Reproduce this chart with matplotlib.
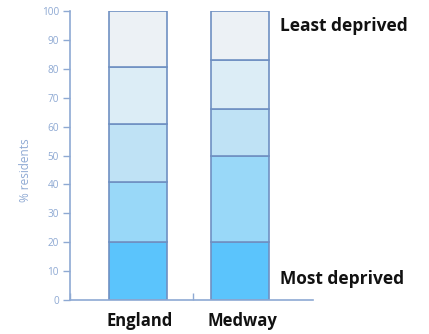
import matplotlib
matplotlib.use("Agg")
import matplotlib.pyplot as plt
import numpy as np

categories = ["England", "Medway"]
# quintile shares, most deprived (bottom) to least deprived (top)
england = [20, 21, 20, 19.5, 19.5]
medway = [20, 30, 16, 17, 17]
y_ticks = [0, 10, 20, 30, 40, 50, 60, 70, 80, 90, 100]

colors = ["#5BC4FC", "#99D8F8", "#BFE2F5", "#DCEDF6", "#ECF1F5"]
edge = "#6F90C2"
axcol = "#8EA9D3"
FONT = "Open Sans"

fig = plt.figure(figsize=(4.29, 3.34), dpi=100)
ax = fig.add_axes([70/429, (334-300)/334, (313-70)/429, (300-11)/334])

data = np.array([england, medway])
xpos = np.arange(len(categories))
bottom = np.zeros(len(categories))
for i in range(data.shape[1]):
    ax.bar(xpos, data[:, i], bottom=bottom, width=0.57, color=colors[i],
           edgecolor=edge, linewidth=1.2, zorder=2)
    bottom += data[:, i]

ax.set_xlim(-0.667, 1.716)
ax.set_ylim(0, 100)
ax.set_yticks(y_ticks)
ax.set_yticklabels([str(t) for t in y_ticks], fontsize=7.2, color=axcol, family=FONT)
ax.tick_params(axis="y", colors=axcol, length=5, width=1, pad=3, labelcolor=axcol)
ax.set_xticks([-0.667, 0.539])
ax.set_xticklabels([])
ax.tick_params(axis="x", colors=axcol, length=5, width=1, direction="in")
for s in ["top", "right"]:
    ax.spines[s].set_visible(False)
for s in ["left", "bottom"]:
    ax.spines[s].set_color(axcol)
    ax.spines[s].set_linewidth(1.2)

for x, lab in zip(xpos, categories):
    ax.text(x + 0.02, -4.3, lab, ha="center", va="top", fontsize=12,
            fontweight="bold", family=FONT, color="#111111", transform=ax.transData,
            clip_on=False)

ax.set_ylabel("% residents", fontsize=8.5, color=axcol, family=FONT)
ax.yaxis.set_label_coords(-0.155, 0.45)

fig.text(280/429, 1 - 26/334, "Least deprived", ha="left", va="center",
         fontsize=12.5, fontweight="bold", family=FONT, color="#111111")
fig.text(280/429, 1 - 279/334, "Most deprived", ha="left", va="center",
         fontsize=12.5, fontweight="bold", family=FONT, color="#111111")

fig.savefig("out.png", dpi=100)
